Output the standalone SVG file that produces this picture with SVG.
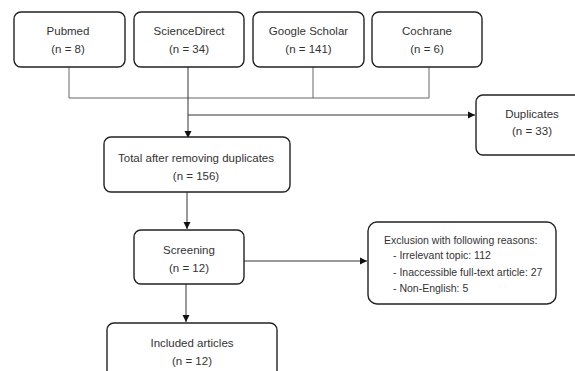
<svg xmlns="http://www.w3.org/2000/svg" width="575" height="371" viewBox="0 0 575 371">
<defs>
<marker id="ah" markerWidth="8" markerHeight="8" refX="7" refY="4" orient="auto" markerUnits="userSpaceOnUse">
<path d="M0,0.5 L7,4 L0,7.5 Z" fill="#111"/>
</marker>
<style>
.box{fill:#fff;stroke:#222;stroke-width:1.4}
.t{font-family:"Liberation Sans",Arial,sans-serif;font-size:11.5px;fill:#333;text-anchor:middle}
.l{font-family:"Liberation Sans",Arial,sans-serif;font-size:10.5px;fill:#333}
.c{fill:none;stroke:#666;stroke-width:1}
.a{fill:none;stroke:#333;stroke-width:1;marker-end:url(#ah)}
</style>
</defs>
<rect width="575" height="371" fill="#fff"/>
<g id="connectors">
<path class="c" d="M69,67 V98 H429 V67"/>
<path class="c" d="M313,67 V98"/>
<path class="a" d="M188,67 V138"/>
<path class="a" d="M188,115 H475"/>
<path class="a" d="M187,192 V229"/>
<path class="a" d="M244,261 H367"/>
<path class="a" d="M186,284 V322"/>
</g>
<g id="pubmed">
<rect class="box" x="14" y="12" width="111" height="55" rx="7"/>
<text class="t" x="68" y="35">Pubmed</text>
<text class="t" x="68" y="53">(n = 8)</text>
</g>
<g id="sciencedirect">
<rect class="box" x="134" y="12" width="110" height="55" rx="7"/>
<text class="t" x="189" y="35">ScienceDirect</text>
<text class="t" x="189" y="53">(n = 34)</text>
</g>
<g id="googlescholar">
<rect class="box" x="253" y="12" width="111" height="55" rx="7"/>
<text class="t" x="308.5" y="35">Google Scholar</text>
<text class="t" x="308.5" y="53">(n = 141)</text>
</g>
<g id="cochrane">
<rect class="box" x="372" y="12" width="110" height="55" rx="7"/>
<text class="t" x="427" y="35">Cochrane</text>
<text class="t" x="427" y="53">(n = 6)</text>
</g>
<g id="duplicates">
<rect class="box" x="476" y="95" width="110" height="60" rx="7"/>
<text class="t" x="532" y="118">Duplicates</text>
<text class="t" x="532" y="135">(n = 33)</text>
</g>
<g id="total">
<rect class="box" x="104" y="137" width="186" height="55" rx="7"/>
<text class="t" x="196" y="162">Total after removing duplicates</text>
<text class="t" x="196" y="180">(n = 156)</text>
</g>
<g id="screening">
<rect class="box" x="134" y="230" width="110" height="54" rx="7"/>
<text class="t" x="189" y="254">Screening</text>
<text class="t" x="189" y="272">(n = 12)</text>
</g>
<g id="exclusion">
<rect class="box" x="368" y="222" width="188" height="82" rx="9"/>
<text class="l" x="384" y="244">Exclusion with following reasons:</text>
<text class="l" x="393" y="259">-  Irrelevant topic: 112</text>
<text class="l" x="393" y="276">-  Inaccessible full-text article: 27</text>
<text class="l" x="393" y="292">-  Non-English: 5</text>
</g>
<g id="included">
<rect class="box" x="107" y="323" width="170" height="60" rx="7"/>
<text class="t" x="192" y="347">Included articles</text>
<text class="t" x="192" y="365">(n = 12)</text>
</g>
</svg>
